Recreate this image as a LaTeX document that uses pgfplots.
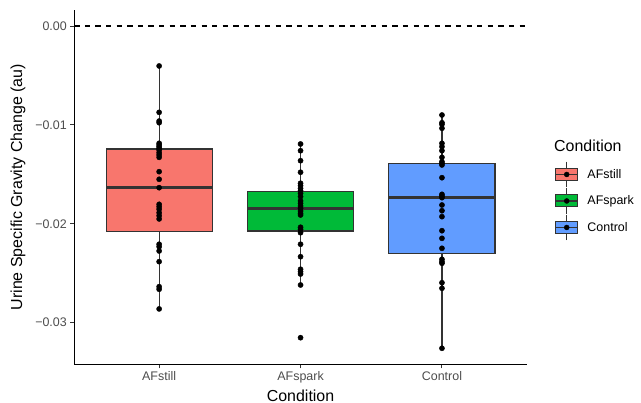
\documentclass[border=0pt]{standalone}
\usepackage{pgfplots}
\pgfplotsset{compat=1.18}
\usepgfplotslibrary{statistics}
\usepackage{fontspec}
\setmainfont{Liberation Sans}
\definecolor{cA}{HTML}{F8766D}
\definecolor{cB}{HTML}{00BA38}
\definecolor{cC}{HTML}{619CFF}
\definecolor{g30}{HTML}{4D4D4D}
\definecolor{g20}{HTML}{333333}
\pgfplotstableread{
x y
1 -0.00404
1 -0.00873
1 -0.00961
1 -0.00978
1 -0.01186
1 -0.01203
1 -0.01220
1 -0.01237
1 -0.01254
1 -0.01281
1 -0.01304
1 -0.01328
1 -0.01473
1 -0.01550
1 -0.01635
1 -0.01803
1 -0.01827
1 -0.01853
1 -0.01888
1 -0.01918
1 -0.01951
1 -0.02207
1 -0.02232
1 -0.02275
1 -0.02383
1 -0.02636
1 -0.02662
1 -0.02861
}\afstill
\pgfplotstableread{
x y
2 -0.01193
2 -0.01261
2 -0.01362
2 -0.01479
2 -0.01590
2 -0.01615
2 -0.01641
2 -0.01665
2 -0.01692
2 -0.01726
2 -0.01769
2 -0.01793
2 -0.01820
2 -0.01843
2 -0.01871
2 -0.01894
2 -0.01911
2 -0.02035
2 -0.02056
2 -0.02090
2 -0.02207
2 -0.02333
2 -0.02460
2 -0.02484
2 -0.02508
2 -0.02619
2 -0.03152
}\afspark
\pgfplotstableread{
x y
3 -0.00900
3 -0.00978
3 -0.00994
3 -0.01034
3 -0.01186
3 -0.01220
3 -0.01261
3 -0.01328
3 -0.01372
3 -0.01388
3 -0.01405
3 -0.01534
3 -0.01702
3 -0.01719
3 -0.01736
3 -0.01810
3 -0.01868
3 -0.01928
3 -0.02070
3 -0.02147
3 -0.02248
3 -0.02359
3 -0.02383
3 -0.02399
3 -0.02596
3 -0.02652
3 -0.03259
}\control
\begin{document}
\begin{tikzpicture}
\useasboundingbox (-74.3bp,-38.6bp) rectangle (566.7bp,364.4bp);
\begin{axis}[
 at={(0,0)}, anchor=south west,
 width=452.5bp, height=354.5bp, scale only axis,
 clip=false,
 xmin=0.4, xmax=3.6, ymin=-0.03422, ymax=0.00163,
 axis x line*=bottom, axis y line*=left,
 axis line style={line width=1.1bp, black, -},
 xtick={1,2,3}, xticklabels={AFstill,AFspark,Control},
 ytick={-0.03,-0.02,-0.01,0}, yticklabels={−0.03,−0.02,−0.01,0.00},
 scaled y ticks=false,
 tick style={line width=1bp, g20},
 tick align=outside, major tick length=4bp,
 ticklabel style={font=\fontsize{12.5}{14}\selectfont, text=g30},
 xlabel={Condition}, ylabel={Urine Specific Gravity Change (au)},
 label style={font=\fontsize{16}{18}\selectfont},
 xlabel style={at={(rel axis cs:0.5,0)}, anchor=center, yshift=-31.3bp},
 ylabel style={at={(rel axis cs:0,0.5)}, anchor=center, yshift=56.3bp},
 boxplot/draw direction=y,
 boxplot/every median/.style={line width=2.6bp, draw=g20},
 boxplot/every whisker/.style={line width=1.1bp, draw=g20},
 boxplot/every box/.style={line width=1.1bp, draw=g20},
 legend image code/.code={
   \draw[g20, line width=1bp] (11bp,-12.75bp) -- (11bp,12.75bp);
   \draw[#1, draw=g20, line width=1bp] (0bp,-6bp) rectangle (22bp,6bp);
   \draw[g20, line width=1.5bp] (0bp,0bp) -- (22bp,0bp);
   \fill[black] (11bp,0bp) circle (2.5bp);
 },
 legend style={at={(rel axis cs:1.0623,0.5731)}, anchor=north west, draw=none, fill=none,
   inner sep=0pt, outer sep=0pt, row sep=0pt,
   font=\fontsize{12.5}{14}\selectfont,
   nodes={inner sep=0pt, outer sep=0pt},
   /tikz/every odd column/.append style={column sep=9bp}},
 legend cell align=left,
]
\addplot[black, line width=1.1bp, dash pattern=on 5.3bp off 5.3bp, forget plot] coordinates {(0.4,0) (3.6,0)};
\addplot[boxplot prepared={draw position=1, median=-0.01635, upper quartile=-0.01244, lower quartile=-0.02080, upper whisker=-0.00404, lower whisker=-0.02861, box extend=0.75, whisker extend=0}, fill=cA, draw=g20, line width=1.1bp, forget plot] coordinates {};
\addplot[boxplot prepared={draw position=2, median=-0.01843, upper quartile=-0.01675, lower quartile=-0.02073, upper whisker=-0.01193, lower whisker=-0.02619, box extend=0.75, whisker extend=0}, fill=cB, draw=g20, line width=1.1bp, forget plot] coordinates {};
\addplot[boxplot prepared={draw position=3, median=-0.01732, upper quartile=-0.01388, lower quartile=-0.02298, upper whisker=-0.00900, lower whisker=-0.03259, box extend=0.75, whisker extend=0}, fill=cC, draw=g20, line width=1.1bp, forget plot] coordinates {};
\addplot[only marks, mark=*, mark size=2.6bp, black, forget plot] table {\afstill};
\addplot[only marks, mark=*, mark size=2.6bp, black, forget plot] table {\afspark};
\addplot[only marks, mark=*, mark size=2.6bp, black, forget plot] table {\control};
\addlegendimage{fill=cA}\addlegendentry{AFstill}
\addlegendimage{fill=cB}\addlegendentry{AFspark}
\addlegendimage{fill=cC}\addlegendentry{Control}
\node[anchor=west, inner sep=0pt, font=\fontsize{16}{18}\selectfont] at (rel axis cs:1.0601,0.6169) {Condition};
\end{axis}
\end{tikzpicture}
\end{document}
